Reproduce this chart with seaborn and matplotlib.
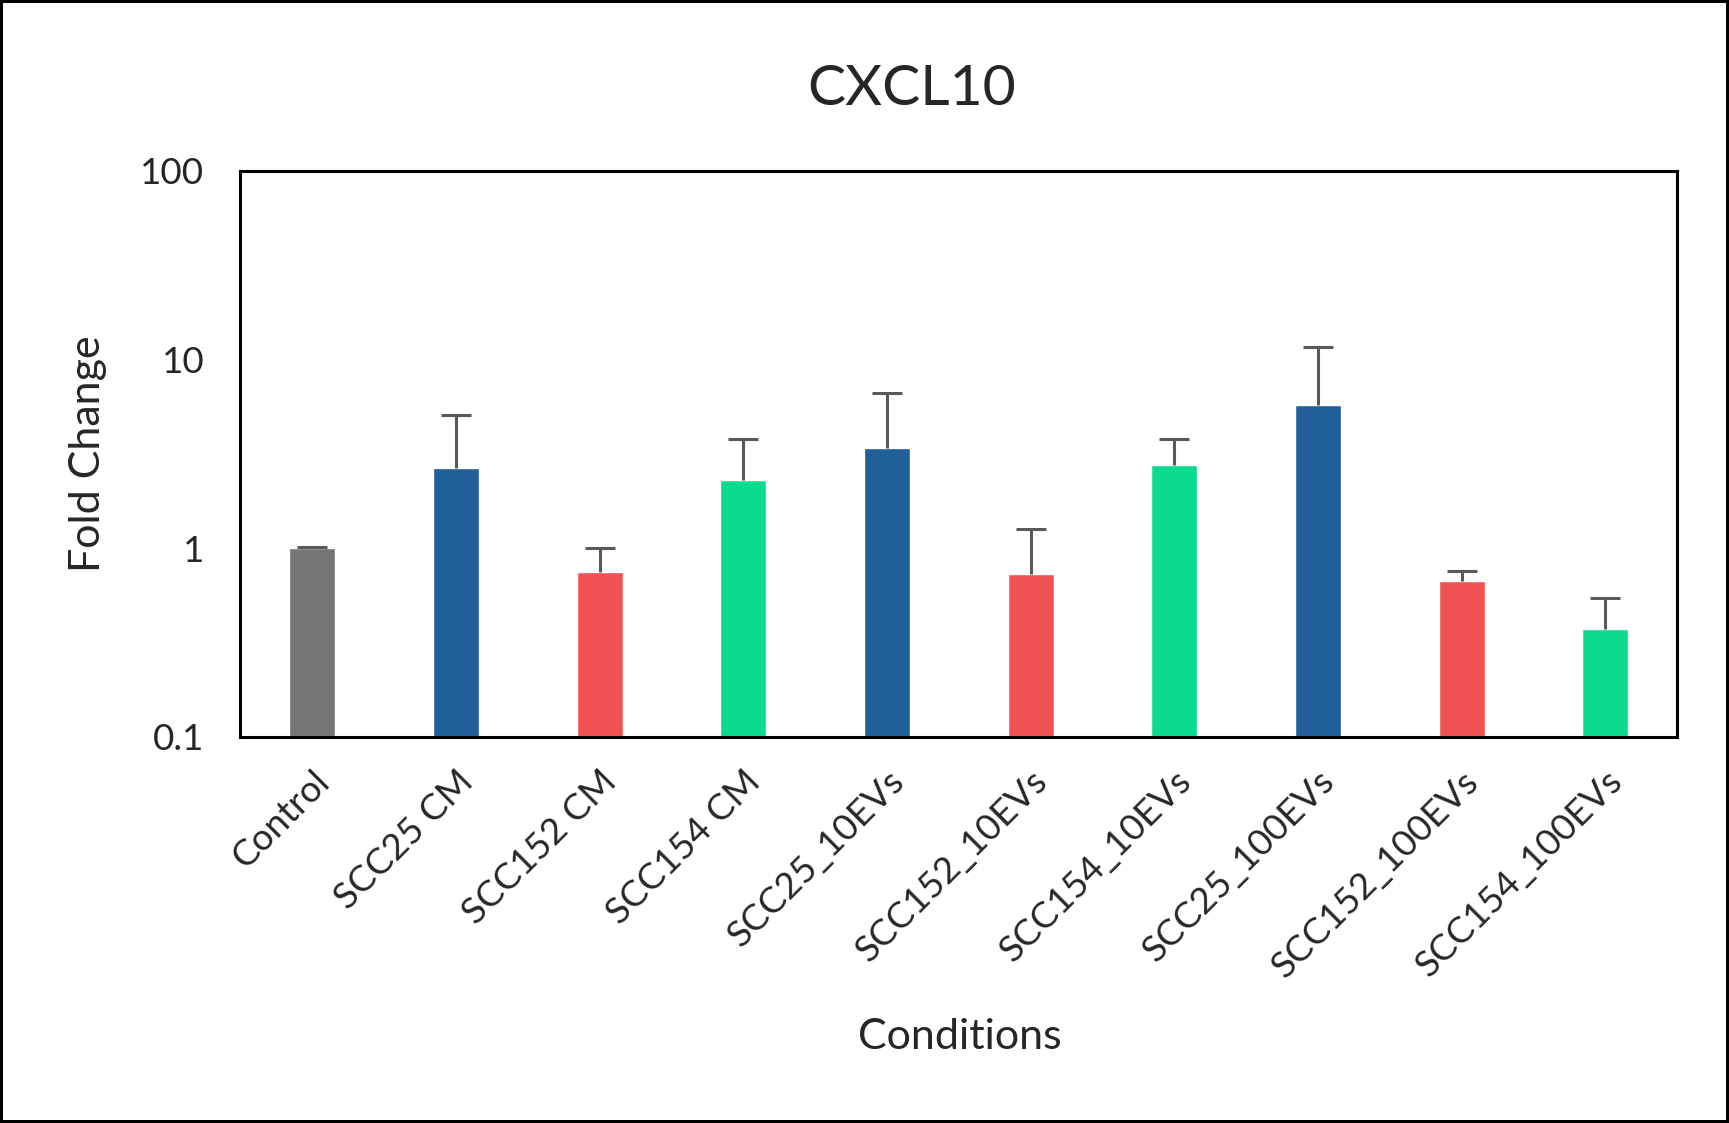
import numpy as np
import pandas as pd
import matplotlib
matplotlib.use("Agg")
import matplotlib.pyplot as plt
import seaborn as sns

# values (log scale)
conditions = ["Control", "SCC25 CM", "SCC152 CM", "SCC154 CM", "SCC25_10EVs",
              "SCC152_10EVs", "SCC154_10EVs", "SCC25_100EVs", "SCC152_100EVs",
              "SCC154_100EVs"]
fold_change = [1.0, 2.64, 0.75, 2.3, 3.4, 0.73, 2.75, 5.76, 0.67, 0.37]
upper_err = [0.01, 2.45, 0.25, 1.5, 3.2, 0.53, 1.05, 5.85, 0.085, 0.175]
bar_colors = ["#767676", "#215F9A", "#F15353", "#0BDB8F", "#215F9A",
              "#F15353", "#0BDB8F", "#215F9A", "#F15353", "#0BDB8F"]

df = pd.DataFrame({"condition": conditions, "fold": fold_change})

sns.set_style("white")
plt.rcParams["font.family"] = ["Lato", "DejaVu Sans"]

fig = plt.figure(figsize=(17.29, 11.23), dpi=100, linewidth=4, edgecolor="black")
ax = fig.add_axes([0.139, 0.344, 0.831, 0.504])

sns.barplot(data=df, x="condition", y="fold", hue="condition", palette=bar_colors,
            legend=False, width=0.32, saturation=1, ax=ax)
ax.set_yscale("log")
eb = ax.errorbar(np.arange(len(conditions)), fold_change,
                 yerr=[np.zeros(len(conditions)), upper_err],
                 fmt="none", ecolor="#595959", elinewidth=2.2, capsize=11, capthick=2.2)
# only the upper cap is drawn in the original
eb[1][0].set_visible(False)

ax.set_ylim(0.1, 100)
ax.set_xlim(-0.5, len(conditions) - 0.5)
ax.set_yticks([0.1, 1, 10, 100])
ax.set_yticklabels(["0.1", "1", "10", "100"])
ax.minorticks_off()
ax.tick_params(axis="both", length=0, labelsize=26.5)
ax.tick_params(axis="x", pad=20)
ax.tick_params(axis="y", pad=26)
plt.setp(ax.get_xticklabels(), rotation=45, ha="right", rotation_mode="anchor")

for s in ax.spines.values():
    s.set_linewidth(2.2)
    s.set_color("black")

ax.set_xlabel("")
ax.set_ylabel("")
fig.text(0.555, 0.077, "Conditions", ha="center", va="center", fontsize=31)
fig.text(0.051, 0.596, "Fold Change", ha="center", va="center", rotation=90, fontsize=31)
fig.text(0.527, 0.92, "CXCL10", ha="center", va="center", fontsize=41)

fig.savefig("out.png", dpi=100)
